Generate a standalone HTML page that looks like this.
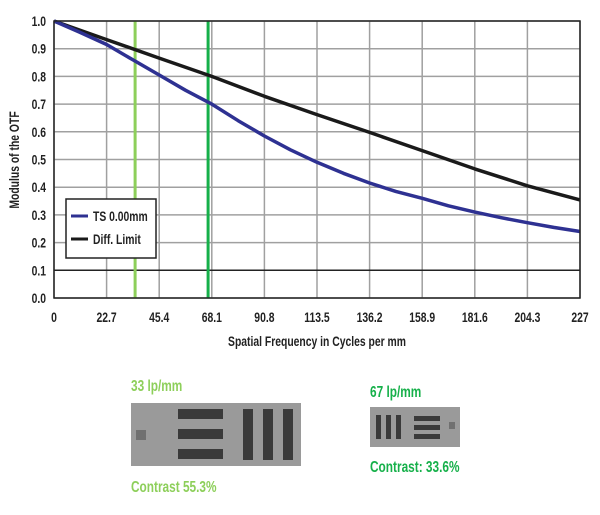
<!DOCTYPE html>
<html><head><meta charset="utf-8"><style>
body{margin:0;background:#fff;width:600px;height:510px;overflow:hidden;font-family:"Liberation Sans",sans-serif;font-weight:bold}
svg text{font-family:"Liberation Sans",sans-serif;font-weight:bold}
</style></head><body>
<svg id="chart" width="600" height="510" xmlns="http://www.w3.org/2000/svg"></svg>
<script>
const xTicks=[0,22.7,45.4,68.1,90.8,113.5,136.2,158.9,181.6,204.3,227];
const yTicks=[0,0.1,0.2,0.3,0.4,0.5,0.6,0.7,0.8,0.9,1.0];
const tsX=[0,11,22.7,34,45.4,56.8,68.1,79.5,90.8,102,113.5,124.9,136.2,147.5,158.9,170.2,181.6,193,204.3,215.6,227];
const tsY=[1.0,0.96,0.915,0.86,0.805,0.75,0.70,0.64,0.585,0.535,0.49,0.45,0.415,0.385,0.36,0.333,0.31,0.29,0.272,0.255,0.24];
const dlX=[0,22.7,45.4,68.1,90.8,113.5,136.2,158.9,181.6,204.3,227];
const dlY=[1.0,0.933,0.866,0.80,0.728,0.662,0.598,0.532,0.466,0.405,0.354];
const markers=[35,66.5];
const markerColors=["#8dcf5a","#16b04a"];
const X0=54,X1=580,Y0=298,Y1=21;
const sx=v=>X0+(v/227)*(X1-X0);
const sy=v=>Y0-v*(Y0-Y1);
const svg=document.getElementById('chart');
const NS='http://www.w3.org/2000/svg';
function mk(t,a,p){const e=document.createElementNS(NS,t);for(const k in a)e.setAttribute(k,a[k]);(p||svg).appendChild(e);return e;}
const grid=mk('g',{});
xTicks.forEach(v=>{const l=mk('line',{x1:sx(v),x2:sx(v),y1:Y1,y2:Y0,stroke:'#a0a0a0','stroke-width':1.5},grid);
const t=mk('text',{x:sx(v),y:322,'text-anchor':'middle','font-size':14,fill:'#222'});t.textContent=v;});
yTicks.forEach(v=>{const l=mk('line',{x1:X0,x2:X1,y1:sy(v),y2:sy(v),stroke:v===0.1?'#222':'#a0a0a0','stroke-width':1.5},grid);
const t=mk('text',{x:46,y:sy(v)+5,'text-anchor':'end','font-size':14,fill:'#222'});t.textContent=v.toFixed(1);});
markers.forEach((m,i)=>{const l=mk('line',{x1:sx(m),x2:sx(m),y1:Y1,y2:Y0,stroke:markerColors[i],'stroke-width':3});});
function path(xs,ys,c,name){const d=xs.map((x,i)=>(i?'L':'M')+sx(x).toFixed(1)+','+sy(ys[i]).toFixed(1)).join('');const p=mk('path',{d:d,fill:'none',stroke:c,'stroke-width':3.5,'stroke-linejoin':'round'});}
path(dlX,dlY,'#1a1a1a','diff-limit-line');
path(tsX,tsY,'#2e3192','ts-line');
const fr=mk('rect',{x:X0,y:Y1,width:X1-X0,height:Y0-Y1,fill:'none',stroke:'#222','stroke-width':1.5});
const lg=mk('g',{});
mk('rect',{x:66,y:199,width:90,height:59,fill:'#fff',stroke:'#222','stroke-width':1.5},lg);
mk('line',{x1:71,x2:88,y1:216,y2:216,stroke:'#2e3192','stroke-width':3},lg);
let t=mk('text',{x:93,y:221,'font-size':14,fill:'#222'},lg);t.textContent='TS 0.00mm';
mk('line',{x1:71,x2:88,y1:239,y2:239,stroke:'#1a1a1a','stroke-width':3},lg);
t=mk('text',{x:93,y:244,'font-size':14,fill:'#222'},lg);t.textContent='Diff. Limit';
t=mk('text',{x:317,y:346,'text-anchor':'middle','font-size':14,fill:'#222'});t.textContent='Spatial Frequency in Cycles per mm';
t=mk('text',{x:0,y:0,'text-anchor':'middle','font-size':14,fill:'#222',transform:'translate(19,160) rotate(-90)'});t.textContent='Modulus of the OTF';
function target(x,y,w,h,rects,name){const g=mk('g',{});mk('rect',{x:x,y:y,width:w,height:h,fill:'#9a9a9a'},g);rects.forEach(r=>mk('rect',{x:x+r[0],y:y+r[1],width:r[2],height:r[3],fill:r[4]||'#3a3a3a'},g));}
target(131,403,170,63,[[5,27,10,10,'#707070'],[47,6,45,10],[47,26,45,10],[47,46,45,10],[112,6,10,51],[132,6,10,51],[152,6,10,51]],'target-33lpmm');
target(370,407,90,40,[[6,8,5,24],[16,8,5,24],[26,8,5,24],[44,9,26,5],[44,18,26,5],[44,27,26,5],[79,15,6,7,'#707070']],'target-67lpmm');
const labels=[[131,391,'33 lp/mm','#8dcf5a'],[370,397,'67 lp/mm','#16b04a'],[131,492,'Contrast 55.3%','#8dcf5a'],[370,472,'Contrast: 33.6%','#16b04a']];
labels.forEach(l=>{const e=mk('text',{x:l[0],y:l[1],'font-size':16,fill:l[3]});e.textContent=l[2];});
// condense all text to mimic narrow font
svg.querySelectorAll('text').forEach(e=>{const w=e.getComputedTextLength();e.setAttribute('textLength',(w*0.74).toFixed(1));e.setAttribute('lengthAdjust','spacingAndGlyphs');});
</script>
</body></html>
